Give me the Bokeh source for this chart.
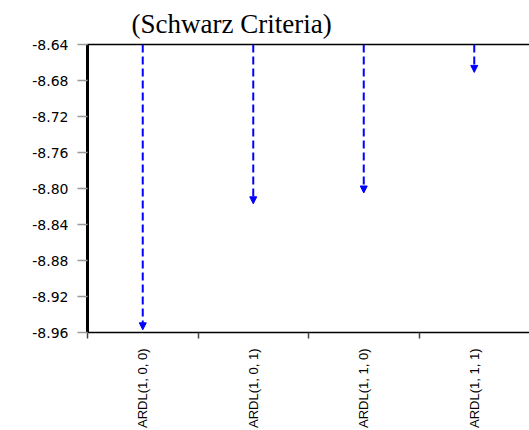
import numpy as np
from bokeh.plotting import figure
from bokeh.models import (Range1d, LinearAxis, FixedTicker, PrintfTickFormatter,
                          Arrow, NormalHead, ColumnDataSource, Title)
from bokeh.embed import file_html
from bokeh.resources import INLINE

# Data
categories = ["ARDL(1, 0, 0)", "ARDL(1, 0, 1)", "ARDL(1, 1, 0)", "ARDL(1, 1, 1)"]
schwarz = [-8.957, -8.817, -8.805, -8.671]
y_ticks = [-8.64, -8.68, -8.72, -8.76, -8.80, -8.84, -8.88, -8.92, -8.96]
title_text = "(Schwarz Criteria)"

y_top = max(y_ticks)
y_bot = min(y_ticks)
n = len(categories)
xc = np.arange(n) + 0.5

p = figure(width=529, height=430, output_backend="svg", toolbar_location=None,
           x_range=Range1d(0, n), y_range=Range1d(y_bot, y_top),
           x_axis_location=None, y_axis_location=None,
           min_border_left=87, min_border_right=0, min_border_top=44, min_border_bottom=97)
p.outline_line_color = None
p.xgrid.visible = False
p.ygrid.visible = False
p.background_fill_color = "white"
p.border_fill_color = "white"

# top line (added before the title so it sits next to the frame)
ta = LinearAxis(ticker=FixedTicker(ticks=[]))
ta.axis_line_color = "black"
ta.axis_line_width = 1.5
ta.major_tick_line_color = None
ta.minor_tick_line_color = None
ta.major_tick_out = 0
ta.major_tick_in = 0
ta.major_label_standoff = 0
ta.major_label_text_font_size = "0px"
p.add_layout(ta, "above")

t = Title(text=title_text, text_font="Liberation Serif", text_font_size="27px",
          text_font_style="normal", text_color="black", align="left", offset=44,
          standoff=12)
p.add_layout(t, "above")

# left axis
ya = LinearAxis(ticker=FixedTicker(ticks=y_ticks, minor_ticks=[]),
                formatter=PrintfTickFormatter(format="%.2f"))
ya.axis_line_color = "black"
ya.axis_line_width = 3
ya.major_tick_line_color = "#9a9a9a"
ya.major_tick_line_width = 1.5
ya.major_tick_out = 10
ya.major_tick_in = 0
ya.minor_tick_line_color = None
ya.major_label_standoff = 9
ya.major_label_text_font = "DejaVu Sans"
ya.major_label_text_font_size = "14px"
ya.major_label_text_color = "black"
p.add_layout(ya, "left")

# bottom axis: labels at centers, ticks at category boundaries
xa = LinearAxis(ticker=FixedTicker(ticks=list(xc), minor_ticks=list(range(n))))
xa.major_label_overrides = {float(x): c for x, c in zip(xc, categories)}
xa.axis_line_color = "black"
xa.axis_line_width = 1.5
xa.major_tick_line_color = None
xa.major_tick_out = 0
xa.major_tick_in = 0
xa.minor_tick_line_color = "#444444"
xa.minor_tick_line_width = 1.5
xa.minor_tick_out = 6
xa.minor_tick_in = 0
xa.major_label_orientation = np.pi / 2
xa.major_label_standoff = 10
xa.major_label_text_font = "Liberation Sans"
xa.major_label_text_font_size = "13px"
xa.major_label_text_color = "black"
p.add_layout(xa, "below")

src = ColumnDataSource(dict(x0=xc, y0=[y_top] * n, x1=xc, y1=schwarz))
arr = Arrow(source=src, x_start="x0", y_start="y0", x_end="x1", y_end="y1",
            line_color="#0000ff", line_width=2, line_dash="8 4",
            end=NormalHead(size=7, fill_color="#0000ff", line_color="#0000ff", line_width=1))
p.add_layout(arr)

open("out.html", "w").write(file_html(p, INLINE))
